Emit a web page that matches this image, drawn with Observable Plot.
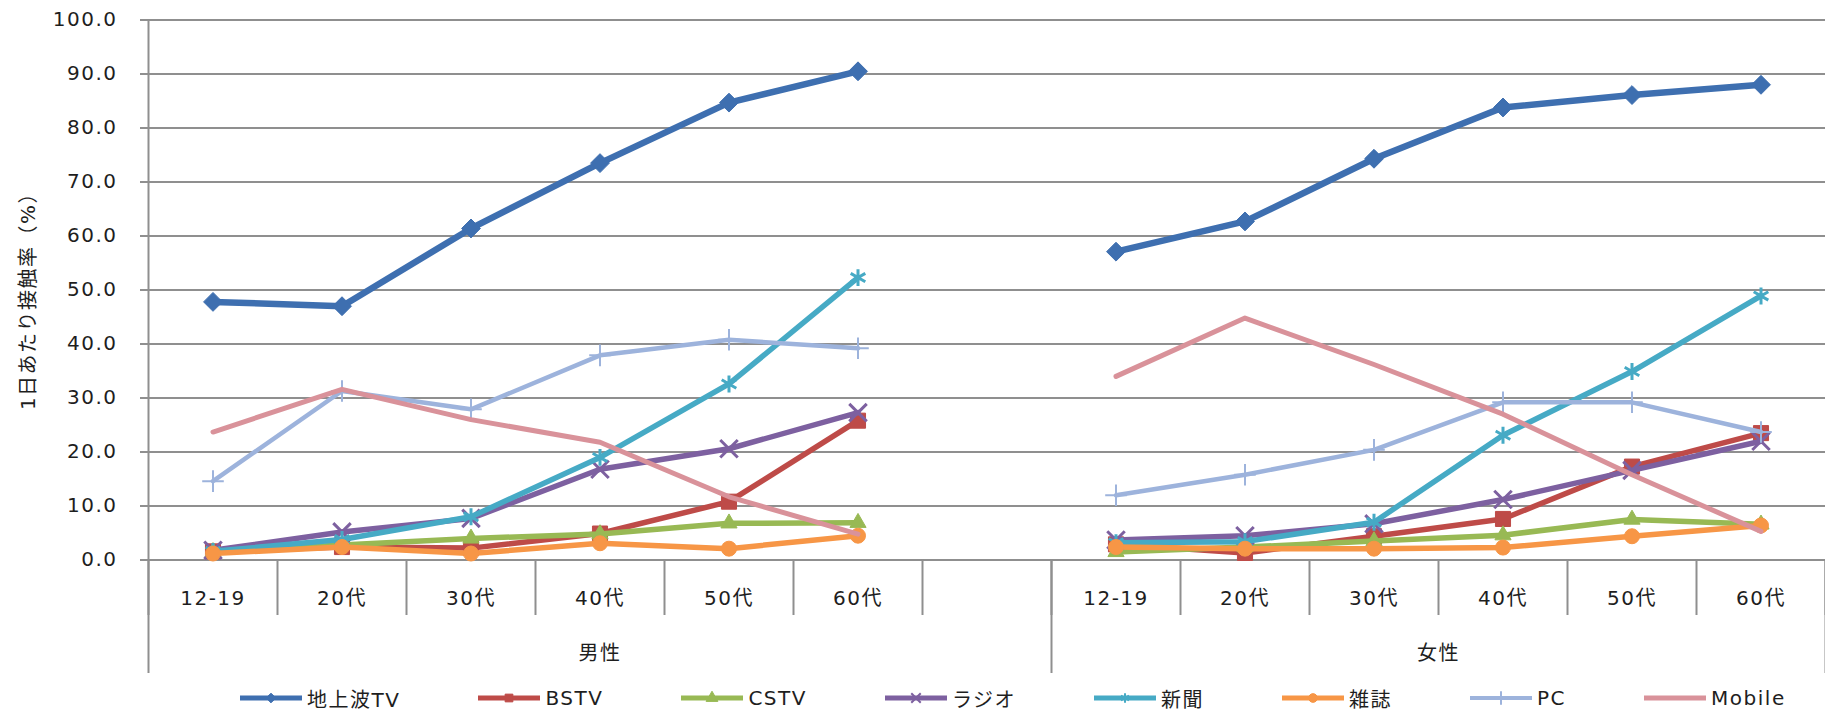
<!DOCTYPE html>
<html><head><meta charset="utf-8">
<script src="https://cdn.jsdelivr.net/npm/d3@7"></script>
<script src="https://cdn.jsdelivr.net/npm/@observablehq/plot@0.6"></script>
<style>
html,body{margin:0;padding:0;background:#fff;}
#chart svg{display:block;}
#chart svg text{letter-spacing:1.5px;}
.legend{display:flex;align-items:center;height:28px;padding-left:240px;font-family:"DejaVu Sans","Noto Sans CJK JP",sans-serif;font-size:20px;letter-spacing:1.5px;color:#1e1e1e;white-space:nowrap;}
.item{display:flex;align-items:center;margin-right:78px;}
.item svg{margin-right:5px;display:block;}
</style></head><body>
<div id="chart"></div>
<div class="legend" id="legend"></div>
<script>
// ---- categories ----
const ageGroups = ["12-19", "20代", "30代", "40代", "50代", "60代"];
const genders = ["男性", "女性"];
// the men's group in the source chart carries one extra empty category slot
const maleSlots = ["12-19", "20代", "30代", "40代", "50代", "60代", ""];
const femaleSlots = ["12-19", "20代", "30代", "40代", "50代", "60代"];
const yTicks = [0, 10, 20, 30, 40, 50, 60, 70, 80, 90, 100];

// ---- series ----
const seriesNames = ["地上波TV", "BSTV", "CSTV", "ラジオ", "新聞", "雑誌", "PC", "Mobile"];
const seriesColors = ["#3e6fb0", "#be4b48", "#98b954", "#7d60a0", "#46aac5", "#f79646", "#9db3dc", "#d9929a"];
const seriesSymbols = ["diamond2", "square", "triangle", "times", "asterisk", "circle", "plus", null];

// ---- values (%), men then women, per age group ----
const terrestrialTV_male = [47.8, 47.0, 61.4, 73.5, 84.7, 90.5];
const terrestrialTV_female = [57.1, 62.7, 74.3, 83.8, 86.1, 88.0];
const bstv_male = [1.6, 2.4, 2.2, 4.9, 10.8, 25.8];
const bstv_female = [2.9, 1.3, 4.4, 7.6, 17.3, 23.5];
const cstv_male = [1.5, 2.8, 4.0, 4.8, 6.8, 6.9];
const cstv_female = [1.5, 2.4, 3.5, 4.6, 7.5, 6.6];
const radio_male = [1.8, 5.2, 7.7, 16.8, 20.6, 27.3];
const radio_female = [3.7, 4.5, 6.7, 11.2, 16.6, 22.0];
const newspaper_male = [1.6, 3.8, 8.0, 19.0, 32.6, 52.3];
const newspaper_female = [3.2, 3.4, 7.0, 23.1, 34.9, 48.9];
const magazine_male = [1.2, 2.4, 1.2, 3.1, 2.1, 4.5];
const magazine_female = [2.4, 2.1, 2.1, 2.3, 4.4, 6.4];
const pc_male = [14.6, 31.3, 27.9, 37.9, 40.8, 39.2];
const pc_female = [12.0, 15.8, 20.4, 29.2, 29.2, 23.7];
const mobile_male = [23.7, 31.6, 26.0, 21.8, 11.7, 4.8];
const mobile_female = [34.0, 44.8, 36.2, 27.0, 15.8, 5.3];

const maleValues = [terrestrialTV_male, bstv_male, cstv_male, radio_male, newspaper_male, magazine_male, pc_male, mobile_male];
const femaleValues = [terrestrialTV_female, bstv_female, cstv_female, radio_female, newspaper_female, magazine_female, pc_female, mobile_female];

// ---- build table ----
const slotLabels = [...maleSlots, ...femaleSlots];
const rows = [];
seriesNames.forEach((s, si) => {
  ageGroups.forEach((a, ai) => {
    rows.push({series: s, gender: "男性", age: a, slot: maleSlots.indexOf(a), value: maleValues[si][ai]});
    rows.push({series: s, gender: "女性", age: a, slot: maleSlots.length + femaleSlots.indexOf(a), value: femaleValues[si][ai]});
  });
});

const nSlots = slotLabels.length;
const slotIdx = d3.range(nSlots);
const boundaries = d3.range(nSlots + 1).map(i => i - 0.5);
const groupBounds = [-0.5, maleSlots.length - 0.5, nSlots - 0.5];
const groupCenters = [(-0.5 + maleSlots.length - 0.5) / 2, (maleSlots.length - 0.5 + nSlots - 0.5) / 2];

const gridColor = "#8f8f8f";
const textColor = "#1e1e1e";
const lineWidths = [6.5, 5.5, 5.5, 5.5, 5.5, 5.5, 4.5, 5];
const markerR = [8.5, 8.5, 6, 8, 8, 7.5, 7, 0];

const marks = [
  Plot.ruleY(yTicks, {stroke: gridColor, strokeWidth: 2}),
  Plot.axisY({ticks: yTicks, tickFormat: d3.format(".1f"), tickSize: 8, tickPadding: 23, fontSize: 20, stroke: gridColor, strokeWidth: 2, fill: textColor, label: null}),
  Plot.ruleX([-0.5], {stroke: gridColor, strokeWidth: 2}),
  Plot.axisX({ticks: boundaries, tickSize: 55.5, tickFormat: () => "", stroke: gridColor, strokeWidth: 2, label: null}),
  Plot.axisX({ticks: groupBounds, tickSize: 113.5, tickFormat: () => "", stroke: gridColor, strokeWidth: 2, label: null}),
  Plot.axisX({ticks: slotIdx, tickSize: 0, tickPadding: 31, tickFormat: i => slotLabels[i], fontSize: 20, fill: textColor, label: null}),
  Plot.axisX({ticks: groupCenters, tickSize: 0, tickPadding: 86, tickFormat: (c, i) => genders[i], fontSize: 20, fill: textColor, label: null}),
  Plot.text(["1日あたり接触率（%）"], {text: d => d, frameAnchor: "left", dx: -120, dy: 6, rotate: -90, fontSize: 20, textAnchor: "middle", lineAnchor: "middle", fill: textColor})
];

seriesNames.forEach((s, si) => {
  const data = rows.filter(r => r.series === s);
  marks.push(Plot.line(data, {x: "slot", y: "value", z: "gender", stroke: seriesColors[si], strokeWidth: lineWidths[si], strokeLinejoin: "round"}));
  const sym = seriesSymbols[si];
  if (sym) {
    const strokeSym = ["times", "asterisk", "plus"].includes(sym);
    marks.push(Plot.dot(data, {
      x: "slot", y: "value", symbol: sym, r: markerR[si],
      fill: strokeSym ? "none" : seriesColors[si],
      stroke: seriesColors[si],
      strokeWidth: strokeSym ? (sym === "plus" ? 2 : 3) : 1
    }));
  }
});

const chart = Plot.plot({
  width: 1825,
  height: 684,
  marginTop: 19.5,
  marginBottom: 124.5,
  marginLeft: 148,
  marginRight: 0,
  style: {fontFamily: '"DejaVu Sans","Noto Sans CJK JP",sans-serif', fontSize: "20px", background: "#fff", color: textColor},
  x: {type: "linear", domain: [-0.5, nSlots - 0.5]},
  y: {domain: [0, 100]},
  marks
});
document.getElementById("chart").appendChild(chart);

// ---- legend ----
const legend = d3.select("#legend");
seriesNames.forEach((s, si) => {
  const item = legend.append("div").attr("class", "item");
  const svg = item.append("svg").attr("width", 62).attr("height", 24);
  svg.append("line").attr("x1", 0).attr("x2", 62).attr("y1", 12).attr("y2", 12)
    .attr("stroke", seriesColors[si]).attr("stroke-width", si === 6 ? 4 : 5);
  const sym = seriesSymbols[si];
  if (sym) {
    const map = {diamond2: d3.symbolDiamond2, square: d3.symbolSquare, triangle: d3.symbolTriangle, times: d3.symbolTimes, asterisk: d3.symbolAsterisk, circle: d3.symbolCircle, plus: d3.symbolPlus};
    const strokeSym = ["times", "asterisk", "plus"].includes(sym);
    svg.append("path").attr("transform", "translate(31,12)")
      .attr("d", d3.symbol(map[sym], 60)())
      .attr("fill", strokeSym ? "none" : seriesColors[si])
      .attr("stroke", seriesColors[si]).attr("stroke-width", strokeSym ? 2 : 1);
  }
  item.append("span").text(s);
});
</script>
</body></html>
